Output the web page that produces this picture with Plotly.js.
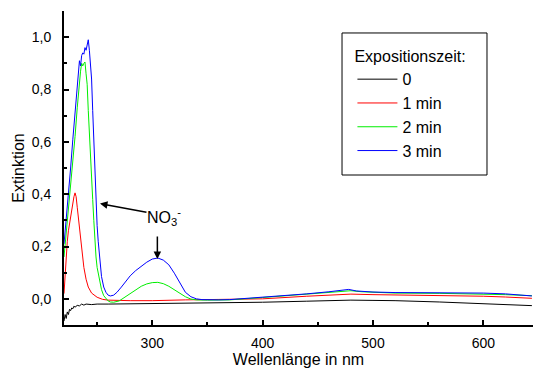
<!DOCTYPE html>
<html><head><meta charset="utf-8">
<script src="https://cdn.plot.ly/plotly-3.0.1.min.js"></script>
<style>html,body{margin:0;padding:0;background:#fff}#chart{width:533px;height:376px}</style>
</head><body><div id="chart"></div>
<script>
const seriesNames = ['0', '1 min', '2 min', '3 min'];
const seriesColors = ['#000000', '#ff0000', '#00ee00', '#0000ff'];

const wlBlack = [220,221,222,223,224,225,226,227,228,229,230,232,234,236,238,240,245,250,260,280,300,330,360,400,440,480,500,520,560,600,620,640,644];
const extBlack = [-0.085,-0.06,-0.075,-0.05,-0.06,-0.04,-0.045,-0.035,-0.038,-0.028,-0.032,-0.025,-0.027,-0.02,-0.024,-0.02,-0.022,-0.02,-0.02,-0.019,-0.019,-0.017,-0.015,-0.013,-0.009,-0.005,-0.006,-0.007,-0.012,-0.018,-0.021,-0.025,-0.026];

const wlRed = [220,221,222,223,224,225,226,227,228,229,230,231,232,233,234,235,236,237,238,240,242,245,250,255,260,280,300,330,360,400,440,480,500,520,560,600,620,644];
const extRed = [0.02,0.1,0.18,0.22,0.26,0.29,0.32,0.35,0.37,0.39,0.405,0.39,0.35,0.31,0.27,0.23,0.19,0.155,0.12,0.075,0.045,0.022,0.006,-0.002,-0.005,-0.007,-0.007,-0.004,-0.003,0.0,0.01,0.018,0.016,0.015,0.012,0.01,0.007,0.002];

const wlGreen = [220,222,224,226,228,230,232,233,234,235,236,237,238,239,240,241,242,243,244,245,246,247,248,249,250,252,254,256,258,260,262,265,270,275,280,285,290,295,300,305,310,315,320,325,330,335,340,350,370,400,440,470,480,490,520,560,600,620,644];
const extGreen = [0.16,0.25,0.34,0.43,0.53,0.62,0.73,0.78,0.85,0.87,0.9,0.89,0.9,0.905,0.86,0.82,0.72,0.62,0.54,0.46,0.38,0.30,0.22,0.16,0.12,0.07,0.035,0.012,0.0,-0.008,-0.012,-0.013,-0.008,0.006,0.02,0.035,0.048,0.057,0.062,0.063,0.058,0.048,0.035,0.02,0.008,-0.001,-0.004,-0.005,-0.004,0.005,0.018,0.028,0.031,0.027,0.022,0.021,0.019,0.016,0.012];

const wlBlue = [220,222,224,226,228,230,231,232,233,234,235,236,237,238,239,240,241,242,243,244,245,246,247,248,249,250,251,252,253,254,256,258,260,262,265,268,272,276,280,285,290,295,300,305,310,315,320,325,330,335,340,345,350,360,370,380,390,400,420,440,460,470,478,485,490,500,520,550,580,600,620,635,644];
const extBlue = [0.21,0.3,0.4,0.5,0.61,0.72,0.76,0.82,0.85,0.91,0.89,0.93,0.94,0.935,0.96,0.95,0.97,0.99,0.95,0.90,0.84,0.72,0.60,0.47,0.36,0.28,0.22,0.17,0.12,0.085,0.045,0.025,0.014,0.011,0.014,0.025,0.045,0.068,0.088,0.108,0.124,0.14,0.152,0.156,0.148,0.13,0.098,0.06,0.025,0.008,0.0,-0.003,-0.004,-0.004,-0.003,0.0,0.004,0.007,0.012,0.019,0.027,0.032,0.036,0.03,0.028,0.026,0.024,0.024,0.023,0.022,0.019,0.014,0.011];

const xs = [wlBlack, wlRed, wlGreen, wlBlue];
const ys = [extBlack, extRed, extGreen, extBlue];

const FONT = '"Liberation Sans", Arial, sans-serif';

const traces = seriesNames.map((n, i) => ({
  x: xs[i], y: ys[i], name: n, type: 'scatter', mode: 'lines',
  line: {color: seriesColors[i], width: 1}
}));

const layout = {
  width: 533, height: 376,
  margin: {l: 64, r: 0, t: 11, b: 51, pad: 0},
  paper_bgcolor: '#fff', plot_bgcolor: '#fff',
  separators: ',.',
  font: {family: FONT, size: 14, color: '#000'},
  showlegend: true,
  legend: {
    x: 0.615, y: 0.903, xanchor: 'left', yanchor: 'top',
    bgcolor: 'rgba(0,0,0,0)', borderwidth: 0, itemwidth: 40,
    font: {family: FONT, size: 16, color: '#000'},
    title: {text: 'Expositionszeit:', font: {family: FONT, size: 16, color: '#000'}}
  },
  xaxis: {
    range: [220, 645], showgrid: false, zeroline: false,
    showline: true, linecolor: '#000', linewidth: 2,
    ticks: 'inside', ticklen: 5, tickwidth: 2, tickcolor: '#000',
    tick0: 0, dtick: 100, ticklabelstandoff: 4,
    minor: {ticks: 'inside', dtick: 50, ticklen: 3, tickwidth: 2, tickcolor: '#000'},
    tickfont: {family: FONT, size: 14},
    title: {text: 'Wellenlänge in nm', font: {family: FONT, size: 16}, standoff: 2}
  },
  yaxis: {
    range: [-0.1, 1.1], showgrid: false, zeroline: false,
    showline: true, linecolor: '#000', linewidth: 2,
    ticks: 'inside', ticklen: 5, tickwidth: 2, tickcolor: '#000',
    tick0: 0, dtick: 0.2, tickformat: '.1f', ticklabelstandoff: 8,
    minor: {ticks: 'inside', dtick: 0.1, ticklen: 3, tickwidth: 2, tickcolor: '#000'},
    tickfont: {family: FONT, size: 14},
    title: {text: 'Extinktion', font: {family: FONT, size: 16}, standoff: 3}
  },
  shapes: [{
    type: 'rect', xref: 'paper', yref: 'paper',
    x0: 0.5928, x1: 0.9019, y0: 0.4777, y1: 0.930,
    line: {color: '#000', width: 1}, fillcolor: 'rgba(0,0,0,0)'
  }],
  annotations: [
    {x: 311, y: 0.314, xref: 'x', yref: 'y', text: 'NO<sub>3</sub><sup>-</sup>',
     showarrow: false, font: {family: FONT, size: 16, color: '#000'}},
    {x: 252.6, y: 0.364, xref: 'x', yref: 'y', text: '', showarrow: true,
     ax: 48, ay: 9, arrowhead: 2, arrowsize: 1, arrowwidth: 1.5, arrowcolor: '#000'},
    {x: 304.6, y: 0.152, xref: 'x', yref: 'y', text: '', showarrow: true,
     ax: 0, ay: -24, arrowhead: 2, arrowsize: 1, arrowwidth: 1.5, arrowcolor: '#000'}
  ]
};

Plotly.newPlot('chart', traces, layout, {displayModeBar: false, staticPlot: true});
</script>
</body></html>
